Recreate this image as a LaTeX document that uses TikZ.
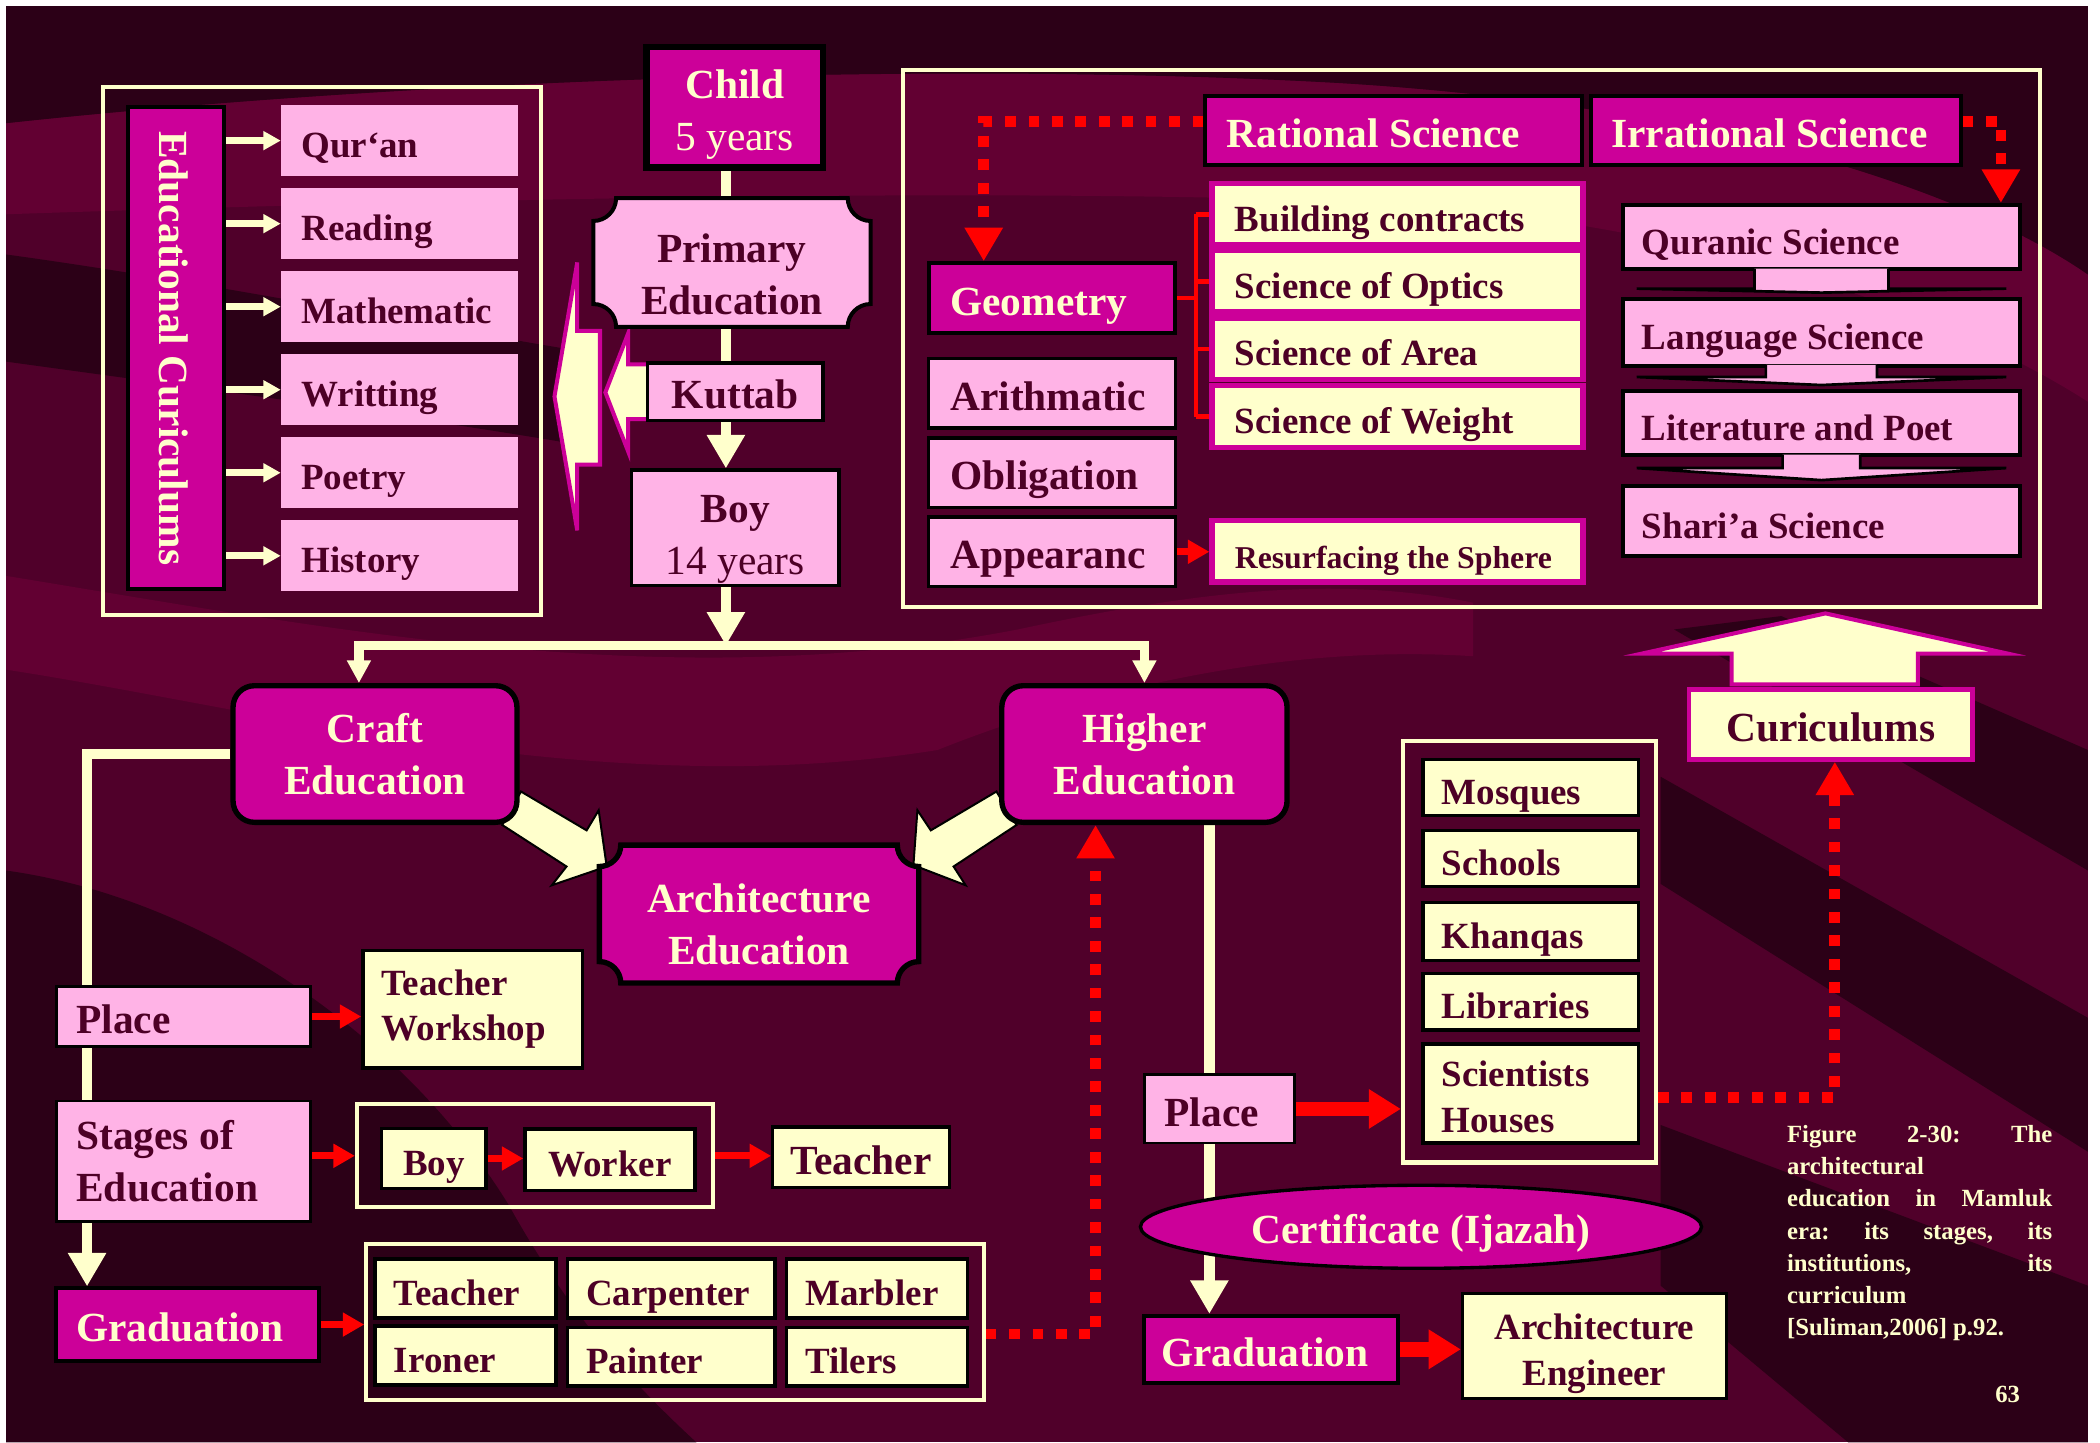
\documentclass[tikz,border=0pt]{standalone}
\usepackage{fontspec}
\setmainfont{Liberation Serif}
\usetikzlibrary{positioning,calc,arrows.meta,shapes.geometric}

\definecolor{mag}{HTML}{CC0099}
\definecolor{pinkfill}{HTML}{FFB3E6}
\definecolor{cream}{HTML}{FFFFCC}
\definecolor{darktext}{HTML}{4D0026}
\definecolor{bgmid}{HTML}{50002A}
\definecolor{bgdark}{HTML}{2C0017}
\definecolor{bglight}{HTML}{620032}

\newcommand\fbig{\fontsize{17.6}{22}\selectfont\bfseries}
\newcommand\fmid{\fontsize{15.7}{19.3}\selectfont\bfseries}
\newcommand\fsmall{\fontsize{13.5}{16}\selectfont\bfseries}
\newcommand\fcap{\fontsize{10.5}{13.65}\selectfont\bfseries}

\pgfdeclarelayer{bg}
\pgfdeclarelayer{links}
\pgfsetlayers{bg,links,main}

% box with hollow quarter-circle corners: style, x1, y1, x2, y2, radius
\newcommand\plaque[6]{%
  \filldraw[#1] (#2+#6,#3) -- (#4-#6,#3)
    .. controls (#4-#6,#3+.55*#6) and (#4-.55*#6,#3+#6) .. (#4,#3+#6)
    -- (#4,#5-#6)
    .. controls (#4-.55*#6,#5-#6) and (#4-#6,#5-.55*#6) .. (#4-#6,#5)
    -- (#2+#6,#5)
    .. controls (#2+#6,#5-.55*#6) and (#2+.55*#6,#5-#6) .. (#2,#5-#6)
    -- (#2,#3+#6)
    .. controls (#2+.55*#6,#3+#6) and (#2+#6,#3+.55*#6) .. (#2+#6,#3) -- cycle;}

% flat pink chevron hanging under a box: upper, lower, shaft half width, head offset
\newcommand\chevron[4]{%
  \filldraw[chev] ($(#1.south)+(-#3,-2)$) -- ($(#1.south)+(-#3,#4)$)
    -- ($(#1.south)+(-138,#4)$) -- ($(#2.north)+(0,-3)$)
    -- ($(#1.south)+(138,#4)$) -- ($(#1.south)+(#3,#4)$)
    -- ($(#1.south)+(#3,-2)$);}

\begin{document}
\begin{tikzpicture}[x=0.2mm, y=-0.2mm,
  sz/.style 2 args={minimum width=(#1)*0.2mm, minimum height=(#2)*0.2mm, inner sep=0pt},
  lft/.style={align=flush left, text width=(#1)*0.2mm},
  sl/.style={text height=5.5mm, text depth=0.4mm},
  ml/.style 2 args={align=flush center, text height=#1, text depth=#2},
  magbox/.style={fill=mag, draw=black, line width=0.6mm, text=cream, font=\fbig},
  pinkbox/.style={fill=pinkfill, draw=black, line width=0.5mm, text=darktext, font=\fbig},
  itembox/.style={fill=pinkfill, text=darktext, font=\fmid, sl},
  creambox/.style={fill=cream, draw=black, line width=0.5mm, text=darktext, font=\fmid},
  scibox/.style={fill=cream, draw=mag, line width=0.8mm, text=darktext, font=\fmid, sl},
  colbox/.style={fill=pinkfill, draw=black, line width=0.6mm, text=darktext, font=\fmid, sl},
  grpframe/.style={draw=cream, line width=0.6mm},
  stagebox/.style={fill=mag, draw=black, line width=0.8mm, rounded corners=3.2mm, text=cream, font=\fbig, align=flush center},
  cline/.style={draw=cream, line width=1.6mm},
  carrow/.style={cline, -{Triangle[width=5.4mm,length=5mm]}},
  csplit/.style={draw=cream, line width=1.4mm, -{Triangle[width=3.4mm,length=3.4mm]}},
  csmall/.style={draw=cream, line width=1mm, -{Triangle[width=2.7mm,length=2.6mm]}},
  rarrow/.style={draw=red, line width=1mm, -{Triangle[width=3.4mm,length=3.2mm]}},
  rbig/.style={draw=red, line width=2.2mm, -{Triangle[width=5.6mm,length=4.8mm]}},
  rdot/.style={draw=red, line width=1.6mm, dash pattern=on 1.6mm off 1.9mm, -{Triangle[width=5.4mm,length=5mm]}},
  rline/.style={draw=red, line width=0.7mm},
  blockarrow/.style={fill=cream, draw=black, line width=0.3mm},
  callout/.style={fill=cream, draw=mag, line width=0.6mm},
  chev/.style={fill=pinkfill, draw=black, line width=0.4mm},
  pinkplaque/.style={fill=pinkfill, draw=black, line width=0.6mm},
  magplaque/.style={fill=mag, draw=black, line width=0.8mm}]

\useasboundingbox (0,0) rectangle (1568,1077);

% background waves
\begin{pgfonlayer}{bg}
  \fill[white] (0,0) rectangle (1568,1077);
  \fill[bgmid] (4.5,4.5) rectangle (1559,1077);
  \fill[bglight] (4.5,92) .. controls (300,60) and (700,45) .. (1000,62) .. controls (1300,80) and (1480,150) .. (1559,205)
    -- (1559,300) .. controls (1450,230) and (1250,160) .. (1000,150) .. controls (700,140) and (300,150) .. (4.5,160) -- cycle;
  \fill[bglight] (4.5,430) .. controls (250,470) and (500,520) .. (760,470) .. controls (900,440) and (1000,430) .. (1100,450)
    -- (1100,490) .. controls (950,480) and (800,520) .. (700,560) .. controls (450,600) and (200,530) .. (4.5,500) -- cycle;
  \fill[bgdark] (4.5,4.5) -- (1559,4.5) -- (1559,205) .. controls (1480,150) and (1300,80) .. (1000,62)
    .. controls (700,45) and (300,60) .. (4.5,92) -- cycle;
  \fill[bgdark] (4.5,190) .. controls (150,210) and (300,240) .. (420,260) -- (420,330) .. controls (300,310) and (150,290) .. (4.5,270) -- cycle;
  \fill[bgdark] (4.5,650) .. controls (150,670) and (300,770) .. (380,900) .. controls (430,990) and (480,1040) .. (520,1077) -- (4.5,1077) -- cycle;
  \fill[bgdark] (1559,560) -- (1559,650) -- (1250,470) -- (1330,460) -- cycle;
  \fill[bgdark] (1559,760) -- (1559,860) -- (1240,660) -- (1240,580) -- cycle;
  \fill[bgdark] (1559,960) -- (1559,1077) -- (1380,1077) -- (1240,960) -- (1240,840) -- cycle;
\end{pgfonlayer}

% group frames
\node[grpframe, sz={327}{394}] (curframe) at (240.5,262) {};
\node[grpframe, sz={849}{401}] (sciframe) at (1098.5,253) {};
\node[grpframe, sz={266}{77}] (stgrp) at (399.5,863) {};
\node[grpframe, sz={461}{116}] (gridfr) at (504,987) {};
\node[grpframe, sz={189}{315}] (instfr) at (1142,710.5) {};

% block arrows
\filldraw[callout] (448,247) -- (431,247) -- (431,196) -- (414,296) -- (431,396) -- (431,347) -- (448,347) -- cycle;
\filldraw[callout] (486,272) -- (469,272) -- (469,249) -- (452,293) -- (469,337) -- (469,313) -- (486,313) -- cycle;
\filldraw[blockarrow] (389,591) -- (438,620) -- (447,605) -- (453,647) -- (412,661) -- (423,647) -- (375,616) -- cycle;
\filldraw[blockarrow] (744,591) -- (695,620) -- (685,605) -- (682,646) -- (721,661) -- (712,647) -- (759,616) -- cycle;
\filldraw[callout] (1293,511) -- (1293,488) -- (1226,488) -- (1363,458) -- (1499,488) -- (1432,488) -- (1432,511) -- cycle;

\plaque{pinkplaque}{443}{148}{650}{244}{17}
\plaque{magplaque}{447.5}{631}{686}{734}{16}

% educational curriculum
\node[magbox, sl, sz={360}{72}, rotate=-90] (educur) at (131.5,260) {Educational Curiculums};
\foreach \t [count=\i from 0] in {Qur‘an,Reading,Mathematic,Writting,Poetry,History}
  \node[itembox, sz={177}{53}, lft=147] (it\i) at (298.5,105+62*\i) {\t};

% main stages
\node[magbox, line width=1mm, sz={132}{90}, ml={14.35mm}{1.35mm}] (child) at (548.5,80) {Child\\{\mdseries 5 years}};
\node[text=darktext, font=\fbig, align=flush center, sz={207}{77}] (primary) at (546.5,205) {Primary\\Education};
\node[pinkbox, sl, sz={131}{43}] (kuttab) at (549,292.5) {Kuttab};
\node[pinkbox, sz={155}{86}, ml={15.25mm}{1.35mm}] (boy) at (549,394) {Boy\\{\mdseries 14 years}};
\node[stagebox, sz={212}{102}] (craft) at (280,563) {Craft\\Education};
\node[stagebox, sz={213}{102}] (higher) at (854.5,563) {Higher\\Education};
\node[text=cream, font=\fbig, align=flush center, sz={238}{86}] (arch) at (566.7,690) {Architecture\\Education};

% craft branch
\node[pinkbox, line width=0.4mm, sl, sz={190}{45}, lft=160] (placeL) at (137,759) {Place};
\node[creambox, sz={164}{88}, lft=136] (tw) at (353,753.5) {Teacher\\Workshop};
\node[pinkbox, line width=0.4mm, sz={190}{90}, lft=160] (stages) at (137,867) {Stages of\\Education};
\node[creambox, sl, sz={78}{45}] (boyS) at (324,865) {Boy};
\node[creambox, sl, sz={127}{46}] (worker) at (455.5,866) {Worker};
\node[creambox, sl, sz={132}{45}, font=\fbig] (teacherS) at (643,864) {Teacher};
\node[magbox, sl, sz={196}{54}, lft=166] (gradL) at (140,989) {Graduation};
\foreach \t/\x/\y/\w [count=\k] in {Teacher/347.6/962/135, Carpenter/501.2/962/155, Marbler/654.7/962/135,
    Ironer/347.6/1012/135, Painter/501.2/1013/155, Tilers/654.7/1013/135}
  \node[creambox, sl, sz={\w}{44}, lft=\w-28] (gr\k) at (\x,\y) {\t};

% higher branch
\node[pinkbox, line width=0.4mm, sl, sz={112}{51}, lft=82] (place2) at (910.5,828) {Place};
\node[magbox, ellipse, line width=0.5mm, sl, sz={419}{62}] (cert) at (1061,916) {Certificate (Ijazah)};
\node[magbox, sl, sz={190}{50}, lft=164] (grad2) at (949,1007.5) {Graduation};
\node[creambox, sz={197}{78}, ml={12.9mm}{1.2mm}] (ae) at (1190.5,1005) {Architecture\\Engineer};
\foreach \t/\y/\h/\n in {Mosques/588/42/mosq, Schools/641/42/schl, Khanqas/695.5/43/khan, Libraries/748/42/libr}
  \node[creambox, sl, sz={161}{\h}, lft=133] (\n) at (1143,\y) {\t};
\node[creambox, sz={161}{74}, lft=133, text height=4.6mm, text depth=6.6mm] (schouse) at (1143,816.5) {Scientists\\Houses};
\node[scibox, line width=0.7mm, font=\fbig, sz={212}{52}] (curic) at (1367,541) {Curiculums};

% sciences
\node[magbox, sl, sz={281}{51}, lft=249] (rational) at (1040.5,97.5) {Rational Science};
\node[magbox, sl, sz={276}{51}, lft=246] (irrational) at (1326,97.5) {Irrational Science};
\node[magbox, sl, sz={184}{52}, lft=152] (geom) at (785.5,222.5) {Geometry};
\foreach \t/\y/\n in {Arithmatic/293.5/arith, Obligation/353/oblig, Appearanc/412/appear}
  \node[pinkbox, sl, sz={184}{52}, lft=152] (\n) at (785.5,\y) {\t};
\foreach \t/\y [count=\i] in {Building contracts/160, Science of Optics/210, Science of Area/260.5, Science of Weight/311}
  \node[scibox, sz={277}{46}, lft=243] (sc\i) at (1043.5,\y) {\t};
\node[scibox, font=\fsmall, sz={277}{46}, lft=243] (resurf) at (1043.5,411.5) {Resurfacing the Sphere};
\foreach \t/\y/\h/\n in {Quranic Science/177/48/qs, Language Science/248/50/lang, Literature and Poet/316/48/lit, Shari’a Science/389/52/sha}
  \node[colbox, sz={296}{\h}, lft=268] (\n) at (1360,\y) {\t};
\chevron{qs}{lang}{50}{13}
\chevron{lang}{lit}{41.5}{7}
\chevron{lit}{sha}{29}{8}

\node[anchor=north west, inner sep=0pt, text width=198*0.2mm, align=left, text=cream, font=\fcap] (caption) at (1334,840)
  {Figure\hfill 2-30:\hfill The\\ architectural\\ education\hfill in\hfill Mamluk\\ era:\hfill its\hfill stages,\hfill its\\
   institutions,\hfill its\\ curriculum\\ {[}Suliman,2006]\hspace{0.25em}p.92.};
\node[text=cream, font=\fcap] (pagenum) at (1499,1041) {63};

% connectors
\begin{pgfonlayer}{links}
  \coordinate (spine) at (542,0);
  \coordinate (split) at (542,482);
  \coordinate (lcol) at (65,0);
  \coordinate (hcol) at (903,0);
  \foreach \i in {0,...,5}
    \draw[csmall] (educur.north |- it\i.west) -- (it\i.west);
  \draw[cline] (child.south -| spine) -- (primary.north -| spine);
  \draw[cline] (primary.south -| spine) -- (kuttab.north -| spine);
  \draw[carrow] (kuttab.south -| spine) -- (boy.north -| spine);
  \draw[carrow] (boy.south -| spine) -- (split);
  \draw[csplit] (split) -| ($(craft.north)+(-12,0)$);
  \draw[csplit] (split) -| (higher.north);

  \draw[cline] (craft.west) -| (lcol |- placeL.north);
  \draw[cline] (lcol |- placeL.south) -- (lcol |- stages.north);
  \draw[carrow] (lcol |- stages.south) -- (lcol |- gradL.north);
  \draw[cline] (hcol |- higher.south) -- (hcol |- place2.north);
  \draw[carrow] (hcol |- place2.south) -- (hcol |- grad2.north);

  \draw[rarrow] (placeL.east) -- (placeL.east -| tw.west);
  \draw[rarrow] (stgrp.west -| stages.east) -- (stgrp.west);
  \draw[rarrow] (boyS.east) -- (boyS.east -| worker.west);
  \draw[rarrow] (stgrp.east) -- (stgrp.east -| teacherS.west);
  \draw[rarrow] (gradL.east) -- (gradL.east -| gridfr.west);
  \draw[rbig] (place2.east) -- (place2.east -| instfr.west);
  \draw[rbig] (grad2.east) -- (grad2.east -| ae.west);
  \draw[rarrow] (appear.east) -- (appear.east -| resurf.west);

  \draw[rline] (geom.east) -- ++(14,0) coordinate (brk);
  \draw[rline] (brk |- sc1.west) -- (brk |- sc4.west);
  \foreach \i in {1,...,4}
    \draw[rline] (brk |- sc\i.west) -- (sc\i.west);

  \draw[rdot] ($(rational.west)+(0,-7)$) -| ($(geom.north)+(-51,0)$);
  \draw[rdot] ($(irrational.east)+(0,-7)$) -| ($(qs.north)+(134,0)$);
  \draw[rdot] ($(gridfr.east)+(0,9)$) -| ($(higher.south)+(-36.5,0)$);
  \draw[rdot] ($(instfr.south east)+(0,-50)$) -| ($(curic.south)+(3,0)$);
\end{pgfonlayer}
\end{tikzpicture}
\end{document}
